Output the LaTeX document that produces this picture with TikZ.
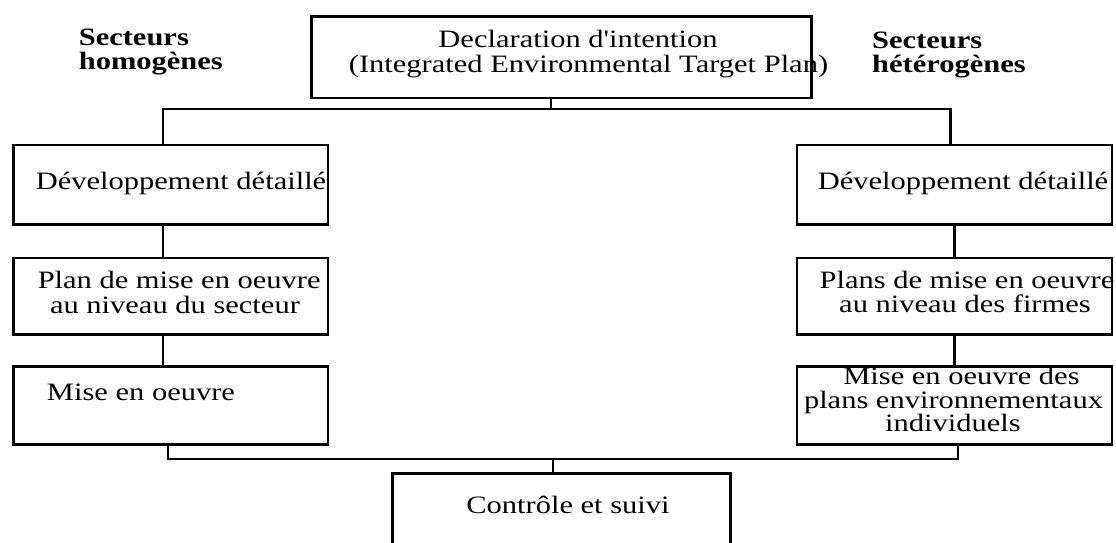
\documentclass[tikz,border=0pt]{standalone}
\usepackage{fontspec}
\setmainfont{Liberation Serif}
\newfontfamily\boxfont[FakeStretch=1.22]{Liberation Serif}
\usetikzlibrary{calc}

\tikzset{
  stage/.style={draw=black, line width=2.6pt, rectangle, inner sep=0pt, anchor=north west},
  conn/.style={draw=black, line width=2.5pt},
  txt/.style={inner sep=0pt, anchor=base, font=\boxfont\fontsize{25}{26}\selectfont},
  head/.style={inner sep=0pt, anchor=base west, font=\boxfont\bfseries\fontsize{25}{26}\selectfont},
}

\begin{document}
\begin{tikzpicture}[x=1pt, y=-1pt]
\useasboundingbox (0,0) rectangle (1116,542);
\begin{scope}
\clip (0,0) rectangle (1116,542);

% top statement box
\node[stage, minimum width=500pt, minimum height=81.5pt] (T) at (310,15) {};
\node[txt] (Ta) at (578,47.5) {Declaration d'intention};
\node[txt] (Tb) at (588.5,72.5) {(Integrated Environmental Target Plan)};

% column headings
\node[head] (Hl1) at (78.6,45.5) {Secteurs};
\node[head] (Hl2) at (78.6,69.5) {homogènes};
\node[head] (Hr1) at (872,48) {Secteurs};
\node[head] (Hr2) at (872,72.5) {hétérogènes};

% left column
\node[stage, minimum width=314.5pt, minimum height=79.5pt] (L1) at (12,143.5) {};
\node[stage, minimum width=314.5pt, minimum height=76.5pt] (L2) at (12,256.5) {};
\node[stage, minimum width=314.5pt, minimum height=78pt]   (L3) at (12,365) {};
\node[txt] (L1a) at (181,189.5) {Développement détaillé};
\node[txt] (L2a) at (179.2,288.5) {Plan de mise en oeuvre};
\node[txt] (L2b) at (175,313.5) {au niveau du secteur};
\node[txt] (L3a) at (141,400.5) {Mise en oeuvre};

% right column
\node[stage, minimum width=315pt, minimum height=79.5pt] (R1) at (795.5,143.5) {};
\node[stage, minimum width=315pt, minimum height=76.5pt] (R2) at (795.5,256.5) {};
\node[stage, minimum width=315pt, minimum height=78pt]   (R3) at (795.5,365) {};
\node[txt] (R1a) at (963,189.5) {Développement détaillé};
\node[txt] (R2a) at (967,288.5) {Plans de mise en oeuvre};
\node[txt] (R2b) at (965,312.5) {au niveau des firmes};
\node[txt] (R3a) at (961.5,384.5) {Mise en oeuvre des};
\node[txt] (R3b) at (953.5,408) {plans environnementaux};
\node[txt] (R3c) at (953,431.5) {individuels};

% monitoring box (runs off the lower edge)
\node[stage, minimum width=338pt, minimum height=90pt] (C) at (391,472) {};
\node[txt] (Ca) at (568,513.5) {Contrôle et suivi};

% connectors
\coordinate (jt) at (551,109);
\coordinate (jb) at (553,459);
\draw[conn] (T.south -| jt) -- (jt);
\draw[conn] (jt) -| ([xshift=-7.5pt]L1.north);
\draw[conn] (jt) -| ([xshift=-4pt]R1.north);
\draw[conn] ([xshift=-7.5pt]L1.south) -- ([xshift=-7.5pt]L2.north);
\draw[conn] ([xshift=-7.5pt]L2.south) -- ([xshift=-7.5pt]L3.north);
\draw[conn] (R1.south) -- (R2.north);
\draw[conn] (R2.south) -- (R3.north);
\draw[conn] ([xshift=-2.5pt]L3.south) |- (jb) -| ([xshift=3.5pt]R3.south);
\draw[conn] (jb) -- (C.north -| jb);
\end{scope}
\end{tikzpicture}
\end{document}
